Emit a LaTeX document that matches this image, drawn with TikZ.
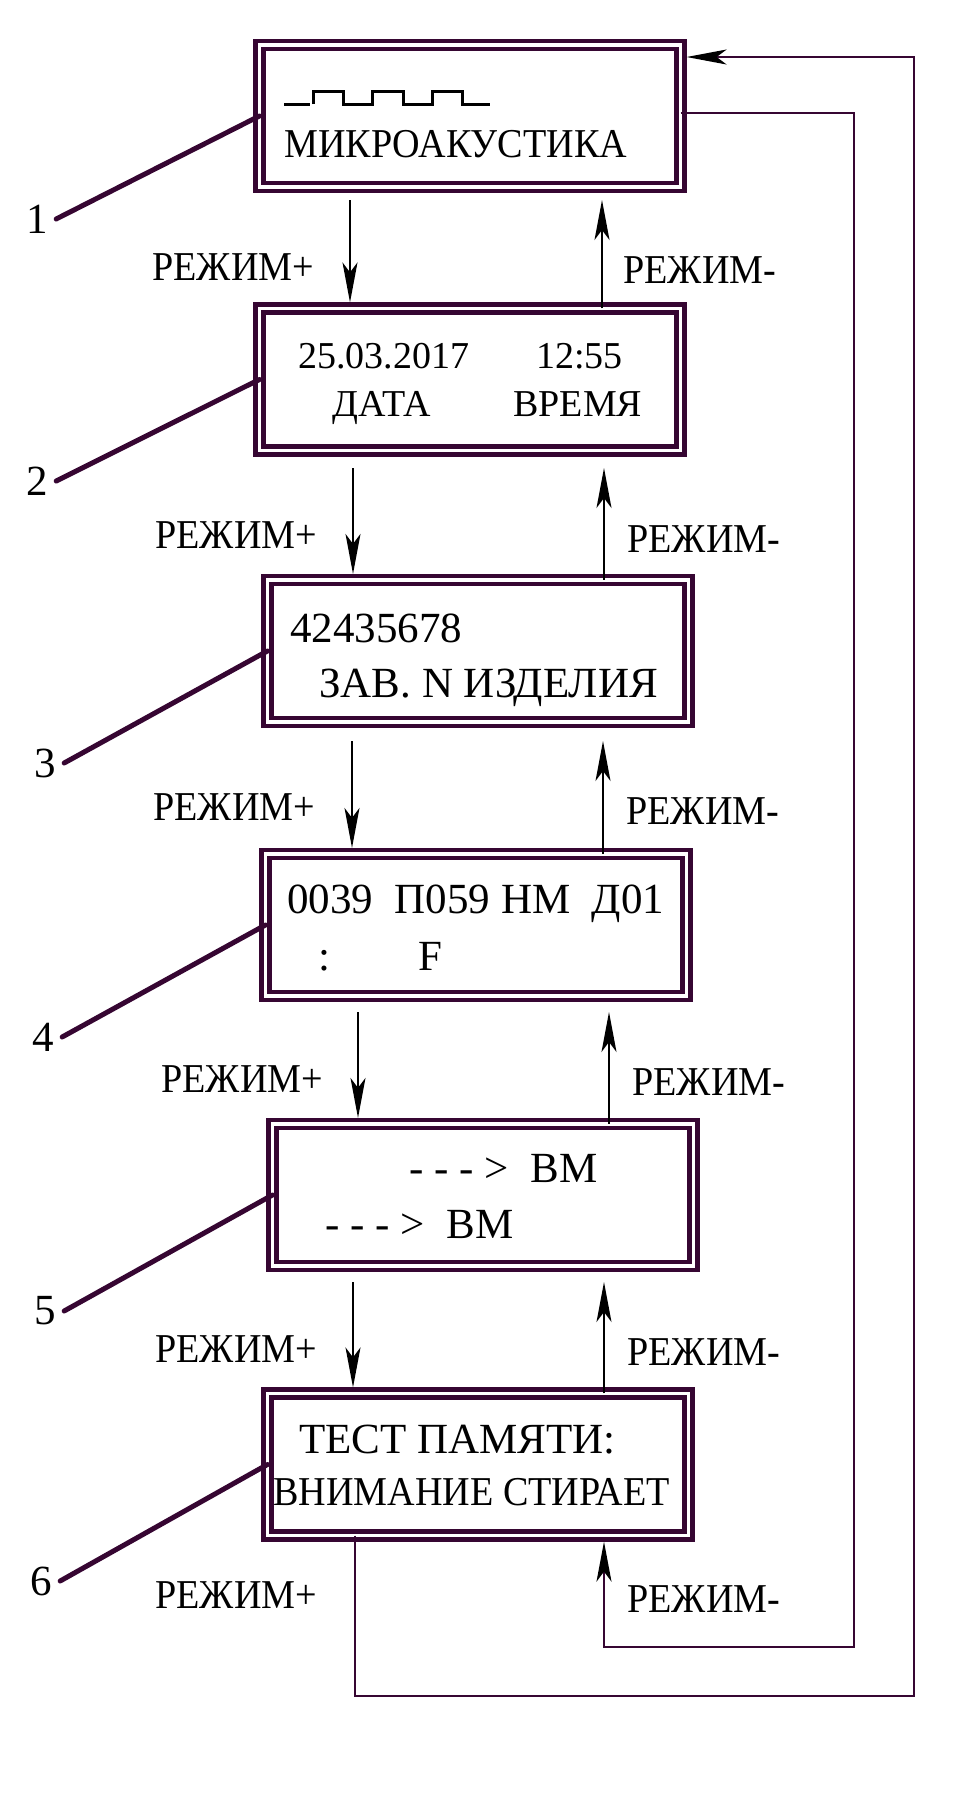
\documentclass[tikz,border=0pt]{standalone}
\usepackage{fontspec}
\setmainfont{Liberation Serif}
\newfontfamily\narrowserif[FakeStretch=0.93]{Liberation Serif}
\usetikzlibrary{arrows.meta,calc}
\definecolor{schemecolor0001}{RGB}{54,6,50}
\definecolor{schemecolor0002}{RGB}{0,0,0}

\begin{document}
\begin{tikzpicture}[yscale=-1
                ,pframe/.style={draw=schemecolor0001,line width=2.2pt,double=white,double distance=1.8pt,minimum width=210.6pt,minimum height=71.1pt,inner sep=0pt,outer sep=0pt}
                ,parrow/.style={color=schemecolor0002,line width=1pt,-{Stealth[length=20pt,width=7.5pt,inset=5pt]}}
                ,ploop/.style={color=schemecolor0001,line width=1pt,-{Stealth[length=20pt,width=7.5pt,inset=5pt,color=schemecolor0002]},shorten >=3pt}
                ,pleader/.style={color=schemecolor0001,line width=2.5pt,line cap=round}
                ,pmode/.style={anchor=base west,inner sep=0pt,font=\narrowserif\fontsize{20.5pt}{23pt}\selectfont}
                ,pnum/.style={inner sep=4pt,font=\fontsize{21.5pt}{24pt}\selectfont}
                ,ptext/.style={anchor=base west,inner sep=0pt,font=\fontsize{19pt}{22pt}\selectfont}
                ,ptextnarrow/.style={anchor=base west,inner sep=0pt,font=\narrowserif\fontsize{20.5pt}{23pt}\selectfont}
                ,ptextbig/.style={anchor=base west,inner sep=0pt,font=\fontsize{21.5pt}{24pt}\selectfont}
            ]
            \useasboundingbox (0pt,0pt) rectangle (486pt,903pt);
            % display frames
            \node[pframe] (b1) at (235pt,58pt) {};
            \node[pframe] (b2) at (235pt,189.75pt) {};
            \node[pframe] (b3) at (239pt,325.5pt) {};
            \node[pframe] (b4) at (238pt,462.5pt) {};
            \node[pframe] (b5) at (241.5pt,597.5pt) {};
            \node[pframe] (b6) at (239pt,732.25pt) {};
            % display texts
            \draw[color=schemecolor0002,line width=1.5pt] (142pt,52pt) -- (155pt,52pt) (156.5pt,52pt) -- (156.5pt,45.5pt) -- (171.5pt,45.5pt) -- (171.5pt,52pt) -- (186pt,52pt) -- (186pt,45.5pt) -- (201.5pt,45.5pt) -- (201.5pt,52pt) -- (216pt,52pt) -- (216pt,45.5pt) -- (231pt,45.5pt) -- (231pt,52pt) -- (245pt,52pt);
            \node[ptextnarrow] (t1) at (142pt,78.5pt) {МИКРОАКУСТИКА};
            \node[ptext] (t2a) at (149pt,184pt) {25.03.2017};
            \node[ptext] (t2b) at (268pt,184pt) {12:55};
            \node[ptext] (t2c) at (166pt,208pt) {ДАТА};
            \node[ptext] (t2d) at (256.5pt,208pt) {ВРЕМЯ};
            \node[ptextbig] (t3a) at (145pt,321pt) {42435678};
            \node[ptextbig] (t3b) at (159.5pt,348.5pt) {ЗАВ. N ИЗДЕЛИЯ};
            \node[ptextbig] (t4a) at (143.5pt,456.5pt) {0039\ \ П059 НМ\ \ Д01};
            \node[ptextbig] (t4b) at (159pt,485pt) {:};
            \node[ptextbig] (t4c) at (209pt,485pt) {F};
            \node[ptextbig] (t5a) at (204.5pt,591pt) {- - - >\ \ ВМ};
            \node[ptextbig] (t5b) at (162.5pt,619pt) {- - - >\ \ ВМ};
            \node[ptextbig] (t6a) at (149.5pt,726.5pt) {ТЕСТ ПАМЯТИ:};
            \node[ptextnarrow] (t6b) at (136.5pt,752.5pt) {ВНИМАНИЕ СТИРАЕТ};
            % position numbers
            \node[pnum] (n1) at (18.5pt,109.5pt) {1};
            \node[pnum] (n2) at (18.5pt,240.5pt) {2};
            \node[pnum] (n3) at (22.5pt,381.5pt) {3};
            \node[pnum] (n4) at (21.5pt,518.5pt) {4};
            \node[pnum] (n5) at (22.5pt,655.5pt) {5};
            \node[pnum] (n6) at (20.5pt,790.5pt) {6};
            \draw[pleader] (n1.east) -- (b1.west);
            \draw[pleader] (n2.east) -- (b2.west);
            \draw[pleader] (n3.east) -- (b3.west);
            \draw[pleader] (n4.east) -- (b4.west);
            \draw[pleader] (n5.east) -- (b5.west);
            \draw[pleader] (n6.east) -- (b6.west);
            % mode keys
            \node[pmode] (lp12) at (76pt,140pt) {РЕЖИМ+};
            \node[pmode] (lm12) at (311.5pt,141.5pt) {РЕЖИМ-};
            \node[pmode] (lp23) at (77.5pt,274pt) {РЕЖИМ+};
            \node[pmode] (lm23) at (313.5pt,276pt) {РЕЖИМ-};
            \node[pmode] (lp34) at (76.5pt,410pt) {РЕЖИМ+};
            \node[pmode] (lm34) at (313pt,412pt) {РЕЖИМ-};
            \node[pmode] (lp45) at (80.5pt,546pt) {РЕЖИМ+};
            \node[pmode] (lm45) at (316pt,547.5pt) {РЕЖИМ-};
            \node[pmode] (lp56) at (77.5pt,681pt) {РЕЖИМ+};
            \node[pmode] (lm56) at (313.5pt,682.5pt) {РЕЖИМ-};
            \node[pmode] (lp61) at (77.5pt,804pt) {РЕЖИМ+};
            \node[pmode] (lm61) at (313.5pt,806pt) {РЕЖИМ-};
            % steps between displays
            \coordinate (d12) at (175pt,100pt);
            \coordinate (u12) at (301pt,100pt);
            \coordinate (d23) at (176.5pt,234pt);
            \coordinate (u23) at (302pt,234pt);
            \coordinate (d34) at (176pt,370.5pt);
            \coordinate (u34) at (301.5pt,370.5pt);
            \coordinate (d45) at (179pt,506pt);
            \coordinate (u45) at (304.5pt,506pt);
            \coordinate (d56) at (176.5pt,641pt);
            \coordinate (u56) at (302pt,641pt);
            \draw[parrow,shorten >=3pt] (d12) -- (d12 |- b2.north);
            \draw[parrow] (u12 |- b2.north) -- (u12);
            \draw[parrow,shorten >=3pt] (d23) -- (d23 |- b3.north);
            \draw[parrow] (u23 |- b3.north) -- (u23);
            \draw[parrow,shorten >=3pt] (d34) -- (d34 |- b4.north);
            \draw[parrow] (u34 |- b4.north) -- (u34);
            \draw[parrow,shorten >=3pt] (d45) -- (d45 |- b5.north);
            \draw[parrow] (u45 |- b5.north) -- (u45);
            \draw[parrow,shorten >=3pt] (d56) -- (d56 |- b6.north);
            \draw[parrow] (u56 |- b6.north) -- (u56);
            % wrap-around loops
            \coordinate (lpA) at (177.5pt,848pt);
            \coordinate (lpB) at (457pt,28.5pt);
            \draw[ploop] (lpA |- b6.south) -- (lpA) -| (lpB) -- (b1.east |- lpB);
            \coordinate (lmA) at (427pt,56.5pt);
            \coordinate (lmB) at (302pt,823.5pt);
            \draw[ploop] (b1.east |- lmA) -- (lmA) |- (lmB) -- (lmB |- b6.south);
        \end{tikzpicture}
\end{document}
